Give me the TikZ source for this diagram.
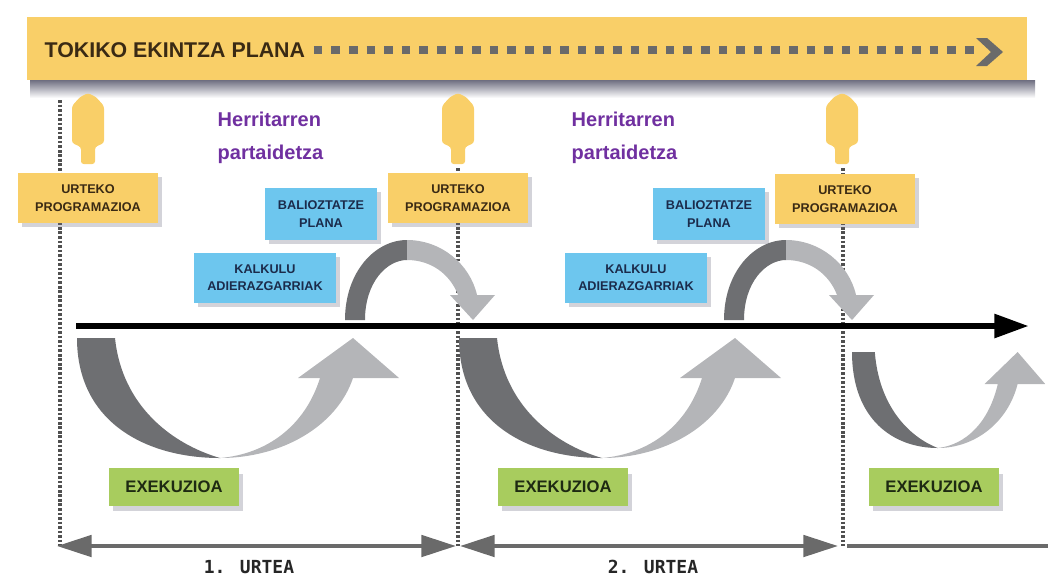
\documentclass[tikz,border=0pt]{standalone}
\usepackage{fontspec}
\setmainfont{Liberation Sans}
\newfontfamily\yearfont{DejaVu Sans Mono}
\usetikzlibrary{arrows.meta,shadows,positioning}

\definecolor{planyellow}{HTML}{F9CF68}
\definecolor{plantext}{HTML}{3A2A14}
\definecolor{evalblue}{HTML}{6DC6EE}
\definecolor{evaltext}{HTML}{1B2B4B}
\definecolor{execgreen}{HTML}{A8CC5E}
\definecolor{exectext}{HTML}{1E2A12}
\definecolor{herripurple}{HTML}{7030A0}
\definecolor{swooshdark}{HTML}{6E6F72}
\definecolor{swooshlight}{HTML}{B4B5B8}
\definecolor{guidegray}{HTML}{505050}
\definecolor{spangray}{HTML}{6A6A6A}
\definecolor{shadowtint}{HTML}{6E6E80}

\begin{document}
\begin{tikzpicture}[x=0.75pt, y=-0.75pt,
    prog/.style={rectangle, fill=planyellow, text=plantext, minimum width=105pt, minimum height=37pt, align=center, font=\fontsize{9.5}{13.5}\selectfont\bfseries, drop shadow={opacity=0.3, fill=shadowtint, shadow xshift=3pt, shadow yshift=-3pt}},
    eval/.style={rectangle, fill=evalblue, text=evaltext, minimum width=84pt, minimum height=39pt, align=center, font=\fontsize{9.5}{13}\selectfont\bfseries, drop shadow={opacity=0.3, fill=shadowtint, shadow xshift=3pt, shadow yshift=-3pt}},
    exec/.style={rectangle, fill=execgreen, text=exectext, minimum width=98pt, minimum height=28pt, font=\fontsize{12.5}{14}\selectfont\bfseries, drop shadow={opacity=0.3, fill=shadowtint, shadow xshift=3pt, shadow yshift=-4pt}},
    people/.style={anchor=base west, text=herripurple, font=\fontsize{15}{18}\selectfont\bfseries},
    guide/.style={draw=guidegray, line width=2.6pt, dash pattern=on 2pt off 1.4pt},
    span/.style={draw=spangray, line width=3pt},
    yeartext/.style={text=black!85, font=\yearfont\fontsize{13.5}{16}\selectfont\bfseries}
]
\useasboundingbox (0,0) rectangle (1048,576);

% Plan banner
\shade[top color=shadowtint, bottom color=white] (30,80) rectangle (1035,98);
\node[fill=planyellow, minimum width=750pt, minimum height=47pt] (plan) at (527,48.5) {};
\node[anchor=west, text=plantext, font=\fontsize{16}{18}\selectfont\bfseries] (plantitle) at (40,50) {TOKIKO EKINTZA PLANA};
\coordinate (chev) at (974,50);
\draw[spangray, line width=6pt, dash pattern=on 6.5pt off 6.7pt] ([xshift=3pt]plantitle.east) -- (chev);
\fill[spangray] (976,38) -- (987,38) -- (1003,52) -- (987,66) -- (976,66) -- (991,52) -- cycle;

% Up arrows to the plan
\foreach \c in {88,458,842}
  \fill[planyellow, rounded corners=2pt] (\c,93) -- (\c+8,97) -- (\c+16,106) -- (\c+16,143) -- (\c+7,147) -- (\c+7,164) -- (\c-7,164) -- (\c-7,147) -- (\c-16,143) -- (\c-16,106) -- (\c-8,97) -- cycle;

% Year guides
\foreach \gx/\gy in {60/100, 458/168, 843/168}
  \draw[guide] (\gx,\gy) -- (\gx,546);

% Evaluation arcs
\foreach \ox in {345,724} {
  \begin{scope}[shift={(\ox,320)}]
    \fill[swooshdark] (0,0) .. controls (0,-48) and (30,-80) .. (62,-80) -- (62,-60) .. controls (42,-60) and (20,-38) .. (20,0) -- cycle;
    \fill[swooshlight] (62,-80) .. controls (96,-80) and (125,-56) .. (132,-25) -- (150,-25) -- (128,0) -- (105,-25) -- (113,-25) .. controls (105,-46) and (86,-60) .. (62,-60) -- cycle;
  \end{scope}
}

% Execution swooshes
\foreach \ox/\oy/\sx/\sy in {77/338/1/1, 459/338/1/1, 852/352/0.6/0.8} {
  \begin{scope}[shift={(\ox,\oy)}, xscale=\sx, yscale=\sy]
    \fill[swooshdark] (0,0) -- (38,0) .. controls (45,68) and (95,106) .. (143,120) .. controls (70,120) and (0,85) .. (0,0) -- cycle;
    \fill[swooshlight] (143,120) .. controls (205,120) and (260,88) .. (276,40) -- (322,40) -- (276,0) -- (221,40) -- (243,40) .. controls (228,88) and (190,116) .. (143,120) -- cycle;
  \end{scope}
}

% Timeline
\coordinate (t-start) at (76,326);
\coordinate (t-end) at (1029,326);
\draw[line width=5pt, -{Triangle[length=26pt,width=17pt]}] (t-start) -- (t-end);

% Annual programmes
\node[prog] (prog1) at (88,198) {URTEKO\\PROGRAMAZIOA};
\node[prog] (prog2) at (458,198) {URTEKO\\PROGRAMAZIOA};
\node[prog] (prog3) at (845,199) {URTEKO\\PROGRAMAZIOA};

% Evaluation
\node[eval] (eval1) at (321,214) {BALIOZTATZE\\PLANA};
\node[eval] (eval2) at (709,214) {BALIOZTATZE\\PLANA};
\node[eval, minimum width=106pt, minimum height=37pt] (calc1) at (265,278) {KALKULU\\ADIERAZGARRIAK};
\node[eval, minimum width=106pt, minimum height=37pt] (calc2) at (636,278) {KALKULU\\ADIERAZGARRIAK};

% Participation
\node[people] (herri1a) at (213,126) {Herritarren};
\node[people] (herri1b) at (213,159) {partaidetza};
\node[people] (herri2a) at (567,126) {Herritarren};
\node[people] (herri2b) at (567,159) {partaidetza};

% Execution
\node[exec] (exec1) at (174,487) {EXEKUZIOA};
\node[exec] (exec2) at (563,487) {EXEKUZIOA};
\node[exec] (exec3) at (934,487) {EXEKUZIOA};

% Year spans
\coordinate (y1-start) at (57,546);
\coordinate (y1-end) at (456,546);
\coordinate (y2-start) at (460,546);
\coordinate (y2-end) at (838,546);
\coordinate (y3-start) at (847,546);
\coordinate (y3-end) at (1048,546);
\draw[span, {Triangle[length=26pt,width=16pt]}-{Triangle[length=26pt,width=16pt]}] (y1-start) -- (y1-end);
\draw[span, {Triangle[length=26pt,width=16pt]}-{Triangle[length=26pt,width=16pt]}] (y2-start) -- (y2-end);
\draw[span] (y3-start) -- (y3-end);
\node[yeartext] (year1) at (249,567) {1. URTEA};
\node[yeartext] (year2) at (653,567) {2. URTEA};

\end{tikzpicture}
\end{document}
